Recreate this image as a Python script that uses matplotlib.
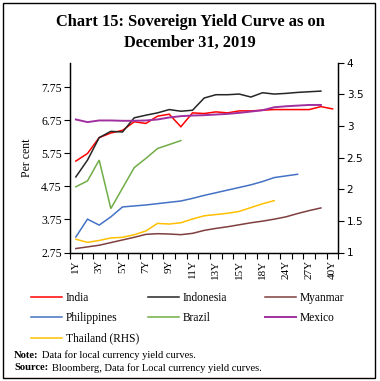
import numpy as np
import matplotlib
matplotlib.use("Agg")
import matplotlib.pyplot as plt
from matplotlib.patches import Rectangle
from matplotlib.ticker import FuncFormatter

# ---------------- data ----------------
tenors = ["1Y", "2Y", "3Y", "4Y", "5Y", "6Y", "7Y", "8Y", "9Y", "10Y", "11Y", "12Y",
          "13Y", "14Y", "15Y", "16Y", "18Y", "20Y", "24Y", "25Y", "27Y", "30Y", "40Y"]
nan = np.nan
india = [5.52, 5.75, 6.23, 6.37, 6.45, 6.71, 6.66, 6.88, 6.94, 6.56, 6.98, 6.96,
         7.01, 6.98, 7.04, 7.04, 7.06, 7.08, 7.08, 7.08, 7.08, 7.17, 7.10]
indonesia = [5.04, 5.55, 6.23, 6.42, 6.40, 6.83, 6.91, 6.98, 7.08, 7.03, 7.06, 7.43,
             7.53, 7.53, 7.55, 7.46, 7.59, 7.55, 7.57, 7.60, 7.62, 7.64, nan]
myanmar = [2.87, 2.92, 2.97, 3.05, 3.13, 3.21, 3.30, 3.32, 3.31, 3.29, 3.33, 3.42,
           3.48, 3.53, 3.59, 3.65, 3.70, 3.76, 3.83, 3.93, 4.02, 4.10, nan]
philippines = [3.22, 3.76, 3.58, 3.83, 4.13, 4.16, 4.19, 4.23, 4.27, 4.31, 4.39, 4.48,
               4.56, 4.64, 4.72, 4.80, 4.90, 5.02, 5.07, 5.12, nan, nan, nan]
brazil = [4.74, 4.92, 5.55, 4.08, 4.70, 5.32, 5.60, 5.90, 6.02, 6.14, nan, nan,
          nan, nan, nan, nan, nan, nan, nan, nan, nan, nan, nan]
mexico = [6.78, 6.70, 6.75, 6.75, 6.74, 6.74, 6.75, 6.78, 6.84, 6.88, 6.90, 6.91,
          6.93, 6.95, 6.98, 7.02, 7.06, 7.15, 7.18, 7.20, 7.22, 7.22, nan]
thailand = [1.21, 1.16, 1.19, 1.23, 1.24, 1.28, 1.34, 1.46, 1.45, 1.47, 1.53, 1.58,
            1.60, 1.62, 1.65, 1.71, 1.77, 1.82, nan, nan, nan, nan, nan]

left_series = [("India", india, "#FF0000", 1.1),
               ("Indonesia", indonesia, "#262626", 1.1),
               ("Myanmar", myanmar, "#7F3F3F", 1.1),
               ("Philippines", philippines, "#4472C4", 1.1),
               ("Brazil", brazil, "#70AD47", 1.1),
               ("Mexico", mexico, "#A0309F", 1.4)]
thai_label = "Thailand (RHS)"
thai_color = "#FFC000"

left_ticks = [2.75, 3.75, 4.75, 5.75, 6.75, 7.75]
right_ticks = [1, 1.5, 2, 2.5, 3, 3.5, 4]

# ---------------- figure ----------------
W, H = 380, 381
fig = plt.figure(figsize=(W / 100, H / 100), dpi=100)
serif = "Liberation Serif"

ax = fig.add_axes([70 / W, 1 - 252.5 / H, (338.4 - 70) / W, (252.5 - 62.7) / H])
ax2 = ax.twinx()

x = np.arange(len(tenors))
handles = {}
for name, vals, col, lw in left_series:
    v = np.array(vals, dtype=float)
    m = ~np.isnan(v)
    h, = ax.plot(x[m], v[m], color=col, lw=lw, label=name, solid_joinstyle="miter")
    handles[name] = h
tv = np.array(thailand, dtype=float)
tm = ~np.isnan(tv)
h, = ax2.plot(x[tm], tv[tm], color=thai_color, lw=1.1, label=thai_label)
handles[thai_label] = h

ax.set_xlim(-0.5, len(tenors) - 0.5)
ax.set_ylim(2.75, 8.5)
ax2.set_ylim(1, 4)

ax.set_yticks(left_ticks)
ax.set_yticklabels([f"{t:.2f}" for t in left_ticks], fontfamily=serif, fontsize=8.5)
ax2.set_yticks(right_ticks)
ax2.yaxis.set_major_formatter(FuncFormatter(lambda v, p: f"{v:g}"))
for lab in ax2.get_yticklabels():
    lab.set_fontsize(7.5)

# x ticks: marks at category boundaries, labels at every other category centre
ax.set_xticks(np.arange(-0.5, len(tenors), 1))
ax.set_xticklabels([])
ax.set_xticks(x[::2], [tenors[i] for i in x[::2]], minor=True)
ax.tick_params(axis="x", which="minor", length=0, pad=5)
ax.tick_params(axis="x", which="major", length=4, direction="out", width=0.8)
for lab in ax.get_xticklabels(minor=True):
    lab.set_rotation(90)
    lab.set_fontfamily(serif)
    lab.set_fontsize(8)
ax.tick_params(axis="y", length=4, width=0.8, pad=2)
ax2.tick_params(axis="y", length=4, width=0.8, pad=2)

for a in (ax, ax2):
    a.spines["top"].set_visible(False)
    for s in ("left", "right", "bottom"):
        a.spines[s].set_linewidth(0.9)
        a.spines[s].set_color("black")
ax.set_ylabel("Per cent", fontfamily=serif, fontsize=8.5, labelpad=6)

# title
fig.text(190 / W, 1 - 22 / H, "Chart 15: Sovereign Yield Curve as on",
         ha="center", va="center", fontfamily=serif, fontweight="bold", fontsize=11.8)
fig.text(190 / W, 1 - 42.5 / H, "December 31, 2019",
         ha="center", va="center", fontfamily=serif, fontweight="bold", fontsize=11.8)

# legend (three columns)
cols = [["India", "Philippines", thai_label], ["Indonesia", "Brazil"], ["Myanmar", "Mexico"]]
xs = [31, 148, 265]
for cx, names in zip(xs, cols):
    fig.legend([handles[n] for n in names], names, loc="upper left",
               bbox_to_anchor=(cx / W, 1 - 292 / H), frameon=False,
               prop={"family": serif, "size": 8.3}, handlelength=2.7,
               handletextpad=0.3, labelspacing=0.72, borderpad=0, borderaxespad=0)

# notes
fs_note = 7.6
fig.text(14 / W, 1 - 355 / H, "Note:", fontfamily=serif, fontweight="bold", fontsize=fs_note, va="center")
fig.text(42.5 / W, 1 - 355 / H, "Data for local currency yield curves.", fontfamily=serif, fontsize=fs_note, va="center")
fig.text(14 / W, 1 - 368 / H, "Source:", fontfamily=serif, fontweight="bold", fontsize=fs_note, va="center")
fig.text(51.5 / W, 1 - 368 / H, "Bloomberg, Data for Local currency yield curves.", fontfamily=serif, fontsize=fs_note, va="center")

fig.patches.append(Rectangle((3 / W, 1 - 378 / H), 372 / W, 375 / H, transform=fig.transFigure,
                             fill=False, lw=1.0, ec="black"))

fig.savefig("out.png", dpi=100)
